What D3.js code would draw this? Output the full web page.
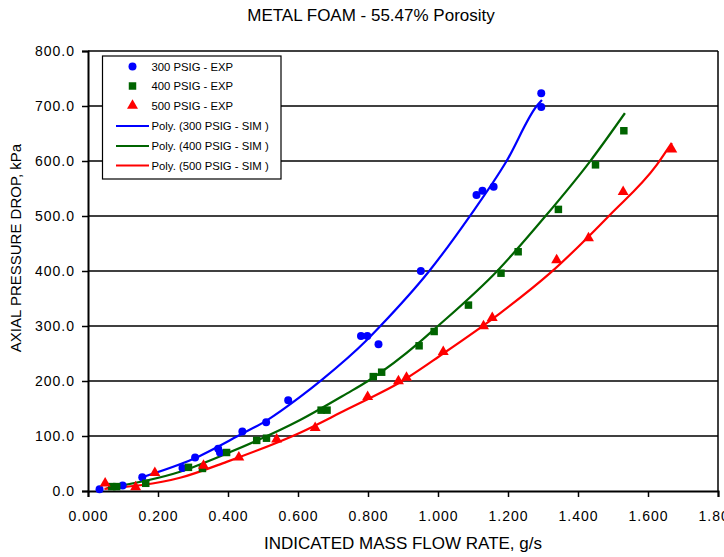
<!DOCTYPE html>
<html>
<head>
<meta charset="utf-8">
<script src="https://cdn.jsdelivr.net/npm/d3@7"></script>
<style>
  html, body { margin: 0; padding: 0; background: #fff; }
  svg { display: block; font-family: "Liberation Sans", Arial, sans-serif; }
</style>
</head>
<body>
<svg id="chart" width="724" height="557"></svg>
<script>
// Experimental measurements: mass flow rate (g/s) and axial pressure drop (kPa)
const exp300X = [0.033, 0.099, 0.155, 0.270, 0.306, 0.372, 0.377, 0.441, 0.509, 0.572, 0.780, 0.798, 0.830, 0.951, 1.110, 1.127, 1.159, 1.295, 1.295];
const exp300Y = [3, 10, 25, 42, 61, 77, 70, 108, 125, 165, 282, 282, 267, 400, 538, 546, 553, 698, 723];

const exp400X = [0.068, 0.082, 0.165, 0.287, 0.327, 0.396, 0.482, 0.510, 0.666, 0.683, 0.815, 0.839, 0.946, 0.989, 1.087, 1.180, 1.229, 1.344, 1.450, 1.531];
const exp400Y = [8, 8, 14, 43, 41, 70, 92, 96, 147, 147, 208, 216, 264, 290, 338, 396, 435, 512, 593, 655];

const exp500X = [0.049, 0.136, 0.191, 0.330, 0.431, 0.539, 0.649, 0.799, 0.887, 0.910, 1.015, 1.130, 1.155, 1.339, 1.430, 1.529, 1.668];
const exp500Y = [14, 7, 33, 46, 61, 94, 115, 171, 200, 206, 253, 300, 315, 420, 460, 544, 621];

// Simulated (polynomial) curves
const sim300X = [0.155, 0.300, 0.440, 0.510, 0.606, 0.668, 0.796, 0.834, 0.975, 1.090, 1.196, 1.282, 1.297];
const sim300Y = [25, 58, 104, 128, 171, 202, 274, 299, 400, 499, 600, 700, 711];

const sim400X = [0.053, 0.263, 0.396, 0.606, 0.739, 0.800, 0.950, 0.991, 1.172, 1.306, 1.434, 1.534];
const sim400Y = [5, 35, 68, 129, 177, 200, 272, 295, 402, 499, 599, 687];

const sim500X = [0.047, 0.263, 0.396, 0.606, 0.739, 0.796, 0.887, 1.015, 1.177, 1.320, 1.491, 1.625, 1.668];
const sim500Y = [4, 24, 53, 106, 148, 166, 196, 250, 323, 396, 502, 593, 633];

// Axis ticks and labels
const xTicks = [0, 0.2, 0.4, 0.6, 0.8, 1.0, 1.2, 1.4, 1.6, 1.8];
const yTicks = [0, 100, 200, 300, 400, 500, 600, 700, 800];
const titleText = "METAL FOAM - 55.47% Porosity";
const xLabel = "INDICATED MASS FLOW RATE, g/s";
const yLabel = "AXIAL PRESSURE DROP, kPa";

const legendLabels = ["300 PSIG - EXP", "400 PSIG - EXP", "500 PSIG - EXP",
  "Poly. (300 PSIG - SIM )", "Poly. (400 PSIG - SIM )", "Poly. (500 PSIG - SIM )"];

const BLUE = "#0000ff", GREEN = "#006400", RED = "#ff0000";

const svg = d3.select("#chart");
const plotLeft = 88, plotRight = 718, plotTop = 51, plotBottom = 491;

const x = d3.scaleLinear().domain([0, 1.8]).range([plotLeft, plotRight]);
const y = d3.scaleLinear().domain([0, 800]).range([plotBottom, plotTop]);

// Horizontal gridlines
svg.append("g")
  .selectAll("line")
  .data(yTicks.slice(1))
  .join("line")
  .attr("x1", plotLeft).attr("x2", plotRight)
  .attr("y1", d => y(d)).attr("y2", d => y(d))
  .attr("stroke", "#000").attr("stroke-width", 1.5);

// Right border of the plot area
svg.append("line")
  .attr("x1", plotRight).attr("x2", plotRight)
  .attr("y1", plotTop).attr("y2", plotBottom)
  .attr("stroke", "#000").attr("stroke-width", 1.5);

// Axes
const yAxis = svg.append("g")
  .attr("transform", `translate(${plotLeft},0)`)
  .call(d3.axisLeft(y).tickValues(yTicks).tickFormat(d3.format(".1f")).tickSize(6).tickPadding(7));
const xAxis = svg.append("g")
  .attr("transform", `translate(0,${plotBottom})`)
  .call(d3.axisBottom(x).tickValues(xTicks).tickFormat(d3.format(".3f")).tickSize(6).tickPadding(14));

[xAxis, yAxis].forEach(g => {
  g.select(".domain").attr("stroke", "#000").attr("stroke-width", 2);
  g.selectAll(".tick line").attr("stroke", "#000").attr("stroke-width", 1.5);
  g.selectAll(".tick text")
    .attr("fill", "#000")
    .style("font-size", "14px")
    .style("letter-spacing", "1px")
    .style("font-family", "'Liberation Sans', Arial, sans-serif");
});

// Simulation curves
const line = d3.line().x(d => x(d[0])).y(d => y(d[1])).curve(d3.curveMonotoneX);
const sims = [
  { xs: sim300X, ys: sim300Y, color: BLUE },
  { xs: sim400X, ys: sim400Y, color: GREEN },
  { xs: sim500X, ys: sim500Y, color: RED }
];
sims.forEach(s => {
  svg.append("path")
    .datum(d3.zip(s.xs, s.ys))
    .attr("d", line)
    .attr("fill", "none")
    .attr("stroke", s.color)
    .attr("stroke-width", 2.2);
});

// Experimental markers
const circleSym = d3.symbol(d3.symbolCircle, 50);
const squareSym = d3.symbol(d3.symbolSquare, 56);
const triSym = d3.symbol(d3.symbolTriangle, 52);

const exps = [
  { xs: exp300X, ys: exp300Y, color: BLUE, sym: circleSym },
  { xs: exp400X, ys: exp400Y, color: GREEN, sym: squareSym },
  { xs: exp500X, ys: exp500Y, color: RED, sym: triSym }
];
exps.forEach(e => {
  svg.append("g")
    .selectAll("path")
    .data(d3.zip(e.xs, e.ys))
    .join("path")
    .attr("d", e.sym)
    .attr("transform", d => `translate(${x(d[0])},${y(d[1])})`)
    .attr("fill", e.color);
});

// Legend
const legend = svg.append("g");
legend.append("rect")
  .attr("x", 102.5).attr("y", 56)
  .attr("width", 178.5).attr("height", 123)
  .attr("fill", "#fff").attr("stroke", "#000").attr("stroke-width", 1.2);

const rowY = [66.5, 86, 105.5, 126, 146, 165.5];
const legendKeys = [
  { type: "sym", sym: circleSym, color: BLUE },
  { type: "sym", sym: squareSym, color: GREEN },
  { type: "sym", sym: triSym, color: RED },
  { type: "line", color: BLUE },
  { type: "line", color: GREEN },
  { type: "line", color: RED }
];
legendKeys.forEach((k, i) => {
  if (k.type === "sym") {
    legend.append("path")
      .attr("d", k.sym)
      .attr("transform", `translate(132.5,${rowY[i]})`)
      .attr("fill", k.color);
  } else {
    legend.append("line")
      .attr("x1", 116).attr("x2", 149)
      .attr("y1", rowY[i]).attr("y2", rowY[i])
      .attr("stroke", k.color).attr("stroke-width", 2.2);
  }
  legend.append("text")
    .attr("x", 151.5)
    .attr("y", rowY[i] + 4)
    .attr("font-size", "11.3px")
    .attr("fill", "#000")
    .text(legendLabels[i]);
});

// Titles
svg.append("text")
  .attr("x", 371).attr("y", 21)
  .attr("text-anchor", "middle")
  .attr("font-size", "17px")
  .text(titleText);

svg.append("text")
  .attr("x", 403).attr("y", 549)
  .attr("text-anchor", "middle")
  .attr("font-size", "17px")
  .text(xLabel);

svg.append("text")
  .attr("transform", "translate(21,248) rotate(-90)")
  .attr("text-anchor", "middle")
  .attr("font-size", "15px")
  .text(yLabel);
</script>
</body>
</html>
